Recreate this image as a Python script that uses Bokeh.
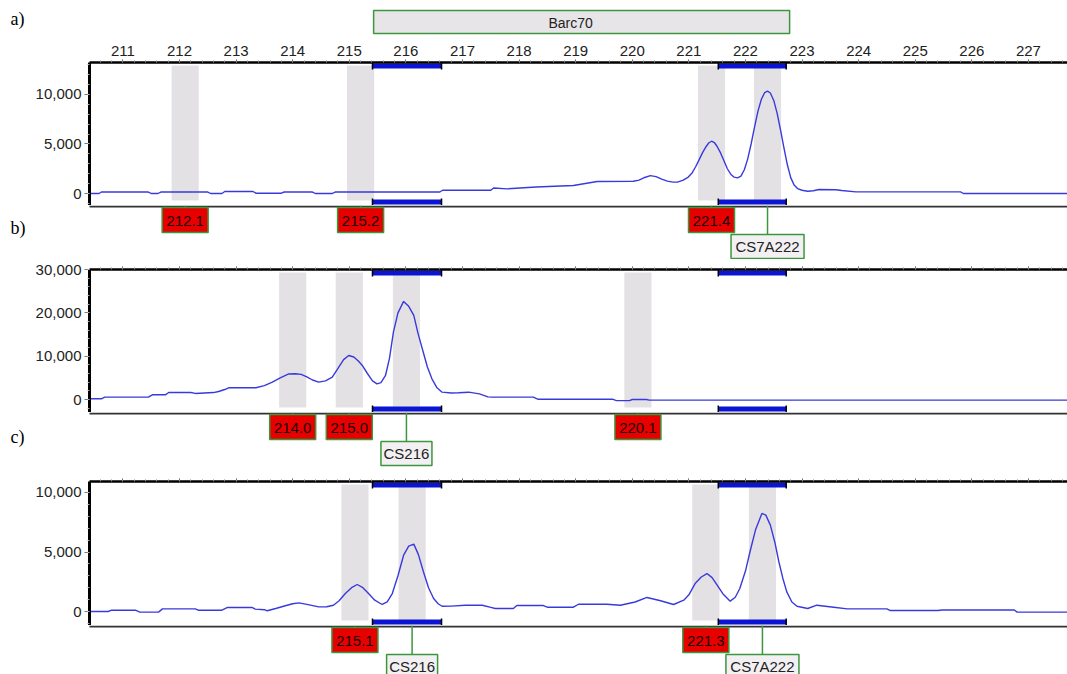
from bokeh.plotting import figure
from bokeh.models import Range1d, LinearAxis, FixedTicker, SingleIntervalTicker, NumeralTickFormatter
from bokeh.layouts import column
from bokeh.core.properties import value
from bokeh.embed import file_html
from bokeh.resources import INLINE

# ---------------- data ----------------
x_min, x_max = 210.41, 227.69
tick_first, tick_last = 211, 227

marker_name = "Barc70"
marker_left, marker_right = 215.43, 222.78
bin_left = [215.41, 221.52]
bin_right = [216.63, 222.72]

# panel a
a_x = [210.41, 210.58, 210.62, 211.45, 211.5, 211.62, 211.67, 212.5, 212.55, 212.75, 212.8, 213.3, 213.35,
       213.8, 213.85, 214.35, 214.4, 214.7, 214.75, 216.6, 216.65, 217.5, 217.55, 217.79, 218.3, 218.96,
       219.38, 220.02, 220.12, 220.22, 220.32, 220.42, 220.52, 220.62, 220.72, 220.8, 220.9, 220.99, 221.06,
       221.12, 221.18, 221.24, 221.3, 221.35, 221.4, 221.45, 221.5, 221.56, 221.62, 221.68, 221.74, 221.8,
       221.86, 221.92, 221.98, 222.04, 222.1, 222.16, 222.22, 222.28, 222.34, 222.39, 222.44, 222.5, 222.56,
       222.62, 222.68, 222.74, 222.8, 222.86, 222.92, 223.0, 223.1, 223.2, 223.3, 223.6, 223.7, 223.95,
       225.8, 225.85, 227.69]
a_y = [0, 0, 150, 150, 0, 0, 150, 150, 0, 0, 200, 200, 30,
       30, 150, 150, 0, 0, 150, 150, 330, 330, 550, 470, 650, 810,
       1210, 1240, 1350, 1620, 1800, 1700, 1450, 1250, 1150, 1150, 1350, 1660, 2100,
       2700, 3400, 4100, 4700, 5100, 5280, 5150, 4750, 4100, 3300, 2500, 1950, 1650,
       1580, 1750, 2400, 3500, 5000, 6700, 8300, 9500, 10200, 10340, 10150, 9400, 8100,
       6400, 4600, 2900, 1600, 850, 500, 330, 230, 280, 400, 380, 300, 160,
       160, 0, 0]
a_calls = ["212.1", "215.2", "221.4"]
a_cs = ["CS7A222"]
a_cs_x = [222.39]

# panel b
b_x = [210.41, 210.62, 210.68, 211.45, 211.52, 211.75, 211.81, 212.2, 212.28, 212.6, 212.69, 212.8, 212.87,
       213.35, 213.5, 213.64, 213.78, 213.93, 214.05, 214.15, 214.25, 214.35, 214.46, 214.58, 214.7, 214.8,
       214.9, 214.99, 215.08, 215.16, 215.23, 215.32, 215.41, 215.49, 215.56, 215.64, 215.71, 215.78, 215.86,
       215.96, 216.05, 216.14, 216.21, 216.29, 216.38, 216.46, 216.55, 216.64, 216.8, 216.93, 217.11, 217.3,
       217.45, 217.52, 218.25, 218.33, 219.65, 219.72, 219.95, 220.0, 220.25, 220.3, 227.69]
b_y = [160, 160, 540, 540, 1080, 1080, 1620, 1620, 1400, 1600, 1850, 2300, 2700,
       2700, 3200, 4000, 5000, 5900, 5950, 5800, 5200, 4500, 4000, 4300, 5150, 7200,
       9200, 10160, 9800, 8900, 7850, 6000, 4300, 3620, 3900, 5540, 9500, 15550, 20000,
       22640, 21500, 19400, 15500, 11700, 7500, 4780, 2700, 1690, 1500, 1550, 1690, 1300,
       600, 540, 540, 70, 70, -250, -250, 0, 0, -150, -150]
b_calls = ["214.0", "215.0", "220.1"]
b_cs = ["CS216"]
b_cs_x = [216.01]

# panel c
c_x = [210.41, 210.74, 210.8, 211.22, 211.3, 211.63, 211.7, 212.28, 212.33, 212.75, 212.85, 213.28, 213.34,
       213.5, 213.55, 213.7, 213.87, 214.0, 214.11, 214.25, 214.46, 214.6, 214.72, 214.82, 214.93, 215.04,
       215.14, 215.24, 215.34, 215.45, 215.58, 215.67, 215.76, 215.86, 215.96, 216.05, 216.14, 216.22,
       216.31, 216.4, 216.49, 216.57, 216.64, 216.8, 217.05, 217.35, 217.5, 217.58, 217.9, 217.96, 218.43,
       218.5, 218.96, 219.05, 219.55, 219.79, 220.05, 220.26, 220.5, 220.73, 220.91, 221.0, 221.11, 221.22,
       221.32, 221.41, 221.5, 221.6, 221.73, 221.82, 221.9, 222.0, 222.08, 222.18, 222.29, 222.36, 222.44,
       222.52, 222.59, 222.66, 222.73, 222.82, 222.91, 223.1, 223.26, 223.56, 223.8, 224.5, 224.56, 225.4,
       225.47, 226.75, 226.8, 227.69]
c_y = [0, 0, 110, 110, -50, -50, 220, 220, 110, 110, 340, 340, 200,
       150, 60, 250, 480, 650, 730, 600, 390, 400, 530, 900, 1510, 2000,
       2270, 2000, 1510, 950, 590, 800, 1510, 3000, 4730, 5500, 5660, 4800,
       3340, 2000, 1090, 650, 440, 450, 530, 530, 350, 250, 250, 500, 500,
       360, 360, 610, 610, 530, 800, 1180, 900, 590, 950, 1400, 2350, 2900,
       3190, 2850, 2210, 1500, 870, 1200, 1930, 3400, 5020, 6900, 8240, 8100, 7260,
       5800, 4180, 2800, 1650, 800, 440, 250, 530, 360, 220, 220, 80, 80,
       130, 130, -50, -50]
c_calls = ["215.1", "221.3"]
c_cs = ["CS216", "CS7A222"]
c_cs_x = [216.11, 222.3]

a_yrange = (-1212, 13232)
b_yrange = (-3000, 30000)
c_yrange = (-1176, 10924)
a_ticks = [0, 5000, 10000]
b_ticks = [0, 10000, 20000, 30000]
c_ticks = [0, 5000, 10000]

# ---------------- style / layout ----------------
W = 1067
LEFT = 89
scale = (x_max - x_min) / (W - LEFT)
XS0 = x_min - LEFT * scale
SANS = "Liberation Sans"
SERIF = "Liberation Serif"
TRACE = "#3a3adc"
BAND = "#e4e1e5"
BAR = "#0a14d2"
GREEN = "#3c963c"
RED = "#e60000"
BAND_HALF = 0.24


def base_fig(h, xr, yr, **kw):
    f = figure(width=W, height=h, x_range=xr, y_range=yr, output_backend="svg",
               toolbar_location=None, x_axis_location=None, y_axis_location=None, **kw)
    f.outline_line_color = None
    f.grid.visible = False
    f.background_fill_color = "white"
    f.border_fill_color = "white"
    return f


def make_panel(h, top_border, frame_h, xs, ys, yr, yticks, minor_step, bands, show_top_labels):
    p = base_fig(h, Range1d(x_min, x_max), Range1d(*yr),
                 min_border_left=LEFT, min_border_right=0, min_border_top=top_border, min_border_bottom=0)
    p.extra_y_ranges = {"px": Range1d(frame_h, 0)}

    minor = list(range(int(yr[0] // minor_step) * minor_step, int(yr[1]) + 1, minor_step))
    yax = LinearAxis(ticker=FixedTicker(ticks=yticks, minor_ticks=minor),
                     formatter=NumeralTickFormatter(format="0,0"))
    yax.axis_line_width = 3
    yax.axis_line_color = "black"
    yax.major_tick_out = 5
    yax.major_tick_in = 0
    yax.major_tick_line_color = "#777777"
    yax.minor_tick_out = 2
    yax.minor_tick_in = 0
    yax.minor_tick_line_color = "#aaaaaa"
    yax.major_label_text_font = SANS
    yax.major_label_text_font_size = "15px"
    yax.major_label_text_color = "#222222"
    yax.major_label_standoff = 3
    p.add_layout(yax, "left")

    tax = LinearAxis(ticker=SingleIntervalTicker(interval=1, num_minor_ticks=5))
    tax.axis_line_width = 2.5
    tax.axis_line_color = "black"
    tax.major_tick_out = 3
    tax.major_tick_in = 0
    tax.major_tick_line_color = "#555555"
    tax.minor_tick_out = 2
    tax.minor_tick_in = 0
    tax.minor_tick_line_color = "#888888"
    if show_top_labels:
        tax.major_label_text_font = SANS
        tax.major_label_text_font_size = "15px"
        tax.major_label_text_color = "#222222"
        tax.major_label_standoff = 4
    else:
        tax.major_label_text_font_size = "1px"
        tax.major_label_text_color = None
        tax.major_label_standoff = 0
    p.add_layout(tax, "above")

    p.quad(left=[b - BAND_HALF for b in bands], right=[b + BAND_HALF for b in bands],
           top=3, bottom=frame_h - 5, y_range_name="px", fill_color=BAND, line_color=None)
    p.line(xs, ys, line_color=TRACE, line_width=1.4)

    edges = bin_left + bin_right
    p.quad(left=bin_left, right=bin_right, top=1, bottom=6, y_range_name="px",
           fill_color=BAR, line_color=None)
    p.segment(x0=edges, y0=0, x1=edges, y1=7, y_range_name="px", line_color="black", line_width=1.5)
    p.quad(left=bin_left, right=bin_right, top=frame_h - 6, bottom=frame_h - 1, y_range_name="px",
           fill_color=BAR, line_color=None)
    p.segment(x0=edges, y0=frame_h - 7, x1=edges, y1=frame_h, y_range_name="px",
              line_color="black", line_width=1.5)
    return p


def make_strip(h, letter, letter_y, calls, cs_names, cs_xs):
    s = base_fig(h, Range1d(XS0, x_max), Range1d(h, 0), min_border=0, frame_align=False)
    s.extra_x_ranges = {"px": Range1d(0, W)}
    call_x = [float(c) for c in calls]
    # bottom edge of the panel above
    s.segment(x0=[x_min], y0=[1], x1=[x_max], y1=[1], line_color="#333333", line_width=2)
    # connectors
    s.segment(x0=call_x, y0=0, x1=call_x, y1=3, line_color=GREEN, line_width=1.2)
    s.segment(x0=cs_xs, y0=0, x1=cs_xs, y1=29, line_color=GREEN, line_width=1.5)
    # called-allele boxes
    s.rect(x=call_x, y=14.5, width=46, height=25, width_units="screen", height_units="screen",
           fill_color=RED, line_color=GREEN, line_width=1.5)
    s.text(x=call_x, y=15, text=calls, text_align="center", text_baseline="middle",
           text_font=value(SANS), text_font_size="15px", text_color="#1a0000")
    # marker-bin boxes
    s.rect(x=cs_xs, y=41, width=[11 * len(n) - 4 for n in cs_names], height=24,
           width_units="screen", height_units="screen",
           fill_color="#f2f0f2", line_color=GREEN, line_width=1.5)
    s.text(x=cs_xs, y=40.5, text=cs_names, text_align="center", text_baseline="middle",
           text_font=value(SANS), text_font_size="15px", text_color="#222222")
    if letter:
        s.text(x=[10], y=[letter_y], text=[letter], x_range_name="px", text_baseline="middle",
               text_font=value(SERIF), text_font_size="18px", text_color="black")
    return s


# header with marker box
head = base_fig(36, Range1d(XS0, x_max), Range1d(36, 0), min_border=0, frame_align=False)
head.extra_x_ranges = {"px": Range1d(0, W)}
head.quad(left=[marker_left], right=[marker_right], top=[10], bottom=[33],
          fill_color="#e8e5e8", line_color=GREEN, line_width=1.5)
head.text(x=[(marker_left + marker_right) / 2], y=[22], text=[marker_name], x_offset=-11,
          text_align="center", text_baseline="middle", text_font=value(SANS),
          text_font_size="14px", text_color="#222222")
head.text(x=[10], y=[18], text=["a)"], x_range_name="px", text_baseline="middle",
          text_font=value(SERIF), text_font_size="18px", text_color="black")

pa = make_panel(169, 26, 143, a_x, a_y, a_yrange, a_ticks, 1000, [float(c) for c in a_calls] + a_cs_x, True)
sa = make_strip(54, "b)", 22, a_calls, a_cs, a_cs_x)
pb = make_panel(153, 10, 143, b_x, b_y, b_yrange, b_ticks, 2000, [float(c) for c in b_calls] + b_cs_x, False)
sb = make_strip(66, "c)", 24, b_calls, b_cs, b_cs_x)
pc = make_panel(147, 3, 144, c_x, c_y, c_yrange, c_ticks, 1000, [float(c) for c in c_calls] + c_cs_x, False)
sc = make_strip(49, None, 0, c_calls, c_cs, c_cs_x)

layout = column(head, pa, sa, pb, sb, pc, sc, spacing=0)
open("out.html", "w").write(file_html(layout, INLINE))
